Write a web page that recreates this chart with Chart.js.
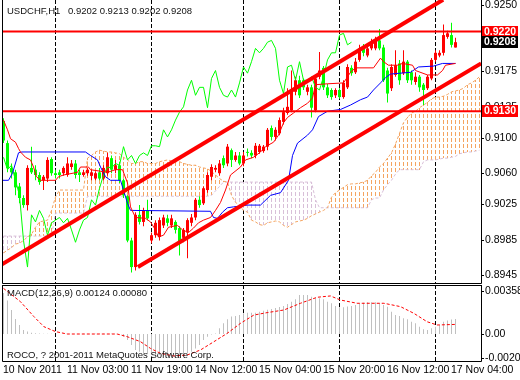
<!DOCTYPE html>
<html>
<head>
<meta charset="utf-8">
<script src="https://cdn.jsdelivr.net/npm/chart.js@4.4.1/dist/chart.umd.min.js"></script>
<style>
  body { margin: 0; background: #fff; }
  #wrap { position: relative; width: 520px; height: 380px; background: #fff; }
  canvas { position: absolute; left: 0; }
  #price { top: 0; }
  #macd { top: 284px; }
</style>
</head>
<body>
<div id="wrap">
  <canvas id="price" width="520" height="284"></canvas>
  <canvas id="macd" width="520" height="96"></canvas>
</div>
<script>
// USDCHF H1, 10 Nov 11:00 .. 17 Nov 05:00 (bar index 0..113)
const opens = [
  .9119,.9094,.9066,.9061,.9045,.9032,.9024,.9066,.9064,.9058,
  .9052,.9054,.9076,.9060,.9061,.9060,.9058,.9067,.9071,.9061,
  .9058,.9060,.9057,.9054,.9061,.9054,.9060,.9077,.9064,.9069,
  .9052,.9034,.8984,.8954,.9013,.9005,.9018,.8984,.8990,.8988,
  .9001,.9009,.9001,.9005,.8998,.8987,.8993,.9004,.9010,.9030,
  .9026,.9041,.9056,.9064,.9060,.9077,.9071,.9086,.9075,.9080,
  .9071,.9084,.9083,.9080,.9084,.9085,.9090,.9111,.9101,.9105,
  .9118,.9128,.9131,.9152,.9165,.9165,.9152,.9157,.9131,.9169,
  .9179,.9157,.9154,.9148,.9154,.9146,.9157,.9179,.9174,.9188,
  .9202,.9193,.9201,.9201,.9210,.9202,.9176,.9156,.9171,.9184,
  .9173,.9186,.9174,.9163,.9169,.9160,.9156,.9167,.9188,.9193,
  .9196,.9214,.9216,.9202
];
const highs = [
  .9122,.9097,.9071,.9064,.9049,.9035,.9069,.9090,.9069,.9061,
  .9058,.9078,.9078,.9064,.9064,.9068,.9078,.9075,.9075,.9064,
  .9064,.9066,.9064,.9062,.9066,.9069,.9083,.9080,.9075,.9073,
  .9054,.9035,.8987,.9016,.9024,.9021,.9030,.8993,.9007,.9010,
  .9013,.9013,.9013,.9007,.9000,.8998,.9009,.9014,.9032,.9034,
  .9045,.9061,.9070,.9069,.9075,.9080,.9093,.9088,.9084,.9084,
  .9084,.9088,.9086,.9094,.9093,.9092,.9111,.9114,.9112,.9123,
  .9134,.9156,.9176,.9169,.9170,.9167,.9160,.9160,.9171,.9197,
  .9181,.9161,.9156,.9156,.9156,.9165,.9183,.9182,.9190,.9205,
  .9206,.9205,.9212,.9214,.9223,.9205,.9179,.9183,.9199,.9188,
  .9199,.9188,.9176,.9174,.9171,.9162,.9171,.9190,.9199,.9199,
  .9228,.9221,.9230,.9213
];
const lows = [
  .9094,.9061,.9054,.9035,.9026,.9021,.9018,.9059,.9052,.9047,
  .9041,.9050,.9057,.9054,.9054,.9057,.9056,.9064,.9054,.9050,
  .9056,.9057,.9052,.9052,.9052,.9052,.9057,.9060,.9060,.9049,
  .9032,.8982,.8948,.8950,.9002,.9000,.9007,.8981,.8987,.8984,
  .8998,.9000,.8998,.8992,.8967,.8982,.8964,.9000,.9007,.9021,
  .9024,.9038,.9052,.9061,.9057,.9066,.9068,.9067,.9073,.9069,
  .9068,.9079,.9077,.9077,.9082,.9083,.9086,.9097,.9097,.9103,
  .9115,.9126,.9129,.9148,.9145,.9154,.9148,.9123,.9129,.9166,
  .9154,.9145,.9143,.9145,.9144,.9144,.9155,.9170,.9172,.9186,
  .9192,.9191,.9199,.9199,.9199,.9163,.9140,.9153,.9169,.9160,
  .9171,.9162,.9160,.9160,.9152,.9137,.9154,.9165,.9186,.9191,
  .9193,.9212,.9202,.9202
];
const closes = [
  .9097,.9066,.9061,.9044,.9032,.9024,.9066,.9061,.9058,.9050,
  .9056,.9075,.9060,.9058,.9058,.9066,.9071,.9071,.9058,.9058,
  .9061,.9064,.9061,.9060,.9054,.9066,.9078,.9064,.9069,.9052,
  .9035,.8984,.8954,.9013,.9005,.9018,.9009,.8990,.9004,.9007,
  .9010,.9004,.9009,.8996,.8982,.8996,.9007,.9010,.9030,.9024,
  .9043,.9058,.9067,.9066,.9071,.9069,.9090,.9075,.9080,.9071,
  .9080,.9083,.9080,.9091,.9091,.9090,.9109,.9101,.9109,.9120,
  .9129,.9135,.9154,.9165,.9148,.9157,.9157,.9134,.9167,.9176,
  .9157,.9148,.9146,.9154,.9146,.9162,.9180,.9173,.9186,.9201,
  .9196,.9201,.9208,.9210,.9201,.9165,.9150,.9180,.9182,.9165,
  .9186,.9165,.9165,.9169,.9157,.9154,.9169,.9188,.9196,.9196,
  .9216,.9218,.9205,.9208
];

// Ichimoku lines, read as (bar index, price) points
const tenkanIdx = [0,1,1.75,3,3.75,4.25,5.5,6.75,7.5,8.25,9.25,13,13.75,15,18.5,19.25,21.25,21.75,26,28,29.75,31,31.75,33,35.5,36.75,38,38.75,40,41.25,43.5,44.75,46.25,47.5,48.75,50,51.75,53,54.25,55.5,56.75,59.25,60.5,62.5,64.25,65.5,67.5,68.75,70,71,72.5,74.25,76,77.25,78,81,85,86.75,88,92.5,94.25,95,96.25,98.5,99.75,102.25,103,106,108.5,109.75,110.5,113];
const tenkanVal = [.9120,.9109,.9099,.9095,.9088,.9084,.9078,.9075,.9067,.9056,.9052,.9052,.9056,.9058,.9061,.9067,.9067,.9064,.9061,.9064,.9064,.9049,.9022,.9010,.9009,.9005,.8996,.8988,.8990,.8999,.9001,.8996,.8993,.8998,.9004,.9007,.9010,.9018,.9027,.9041,.9058,.9067,.9075,.9078,.9084,.9090,.9095,.9103,.9117,.9123,.9128,.9134,.9139,.9145,.9160,.9161,.9162,.9174,.9179,.9179,.9190,.9186,.9182,.9182,.9184,.9182,.9176,.9171,.9171,.9176,.9182,.9184];
const kijunIdx = [-0.25,1.25,2.25,3.75,4.5,20.5,21.75,23.5,24.25,25.5,26.75,29.25,31,31.75,51.75,52.5,53.5,54.75,56,57.5,61,64.25,66.75,69.25,71.25,72.25,73.5,76,77.25,78.75,81,84.25,86.75,89.25,91,92.5,94.25,95.5,96.75,101.75,103.75,107.5,109.75,113];
const kijunVal = [.9052,.9052,.9060,.9083,.9084,.9084,.9080,.9075,.9067,.9056,.9052,.9052,.9026,.9018,.9017,.9010,.9009,.9016,.9021,.9022,.9024,.9024,.9035,.9038,.9052,.9080,.9094,.9103,.9109,.9124,.9130,.9132,.9137,.9143,.9146,.9154,.9162,.9168,.9172,.9174,.9180,.9181,.9184,.9184];
const chikouShift = 26;

// cloud, one value per bar 0..119
const spanA = [
  .8970,.8973,.8976,.8980,.8981,.8984,.8988,.8991,.8999,.9005,
  .9006,.9007,.9018,.9033,.9041,.9041,.9041,.9041,.9041,.9041,
  .9041,.9077,.9080,.9084,.9086,.9085,.9084,.9084,.9083,.9082,
  .9078,.9075,.9071,.9071,.9073,.9073,.9071,.9071,.9071,.9073,
  .9074,.9075,.9074,.9073,.9073,.9071,.9070,.9069,.9069,.9067,
  .9066,.9065,.9062,.9058,.9054,.9051,.9050,.9035,.9027,.9024,
  .9018,.9016,.9007,.9005,.9002,.9001,.9004,.9005,.9006,.9005,
  .9001,.8999,.9002,.9005,.9006,.9007,.9009,.9012,.9014,.9016,
  .9018,.9021,.9033,.9038,.9041,.9044,.9047,.9048,.9048,.9049,
  .9050,.9052,.9057,.9061,.9067,.9071,.9077,.9083,.9093,.9105,
  .9117,.9123,.9128,.9130,.9134,.9137,.9140,.9144,.9146,.9146,
  .9147,.9149,.9152,.9153,.9154,.9156,.9160,.9162,.9165,.9169
];
const spanB = [
  .8989,.8989,.8989,.8989,.8989,.8989,.8989,.8989,.8989,.8989,
  .8989,.8989,.8989,.9015,.9015,.9015,.9015,.9015,.9015,.9015,
  .9015,.9034,.9034,.9034,.9034,.9034,.9034,.9034,.9034,.9034,
  .9034,.9034,.9034,.9034,.9034,.9034,.9034,.9034,.9034,.9034,
  .9034,.9034,.9034,.9034,.9034,.9034,.9034,.9034,.9034,.9034,
  .9034,.9034,.9035,.9040,.9045,.9050,.9050,.9050,.9050,.9050,
  .9050,.9050,.9050,.9050,.9050,.9050,.9050,.9050,.9050,.9050,
  .9050,.9050,.9050,.9050,.9050,.9050,.9050,.9050,.9030,.9021,
  .9021,.9021,.9021,.9021,.9021,.9021,.9021,.9021,.9021,.9021,
  .9021,.9021,.9030,.9032,.9032,.9041,.9047,.9052,.9059,.9064,
  .9064,.9064,.9064,.9064,.9064,.9073,.9075,.9075,.9075,.9076,
  .9077,.9077,.9078,.9079,.9082,.9083,.9084,.9084,.9085,.9086
];

// MACD(12,26,9)
const macdHist = [
  .00342,.0028,.002,.00125,.00075,.00033,.0002,.00011,.00006,.00005,
  .00003,.00002,.00002,.00001,.00001,.00002,.00001,0,-.00001,.00001,
  .00002,.00001,.00001,.00002,.00003,.00002,.00001,.00002,.00001,-.00002,
  -.00022,-.0005,-.00091,-.00133,-.00147,-.00161,-.00167,-.00175,-.00175,-.00175,
  -.00181,-.00181,-.00181,-.00181,-.00175,-.00175,-.00161,-.00147,-.0012,-.00091,
  -.0005,-.00022,-.00005,.00005,.00048,.00089,.00122,.00145,.0015,.00158,
  .00172,.00178,.00178,.00178,.00185,.00194,.00201,.00209,.00216,.00224,
  .00233,.0025,.00269,.00289,.00325,.00325,.00325,.00311,.00297,.00297,
  .00289,.00269,.00256,.00233,.00222,.00222,.00229,.00233,.00242,.00256,
  .00261,.00265,.00265,.00265,.00256,.00242,.00228,.00185,.00158,.0015,
  .00131,.00122,.00102,.00089,.00061,.00039,.00034,.00048,.00061,.00075,
  .00102,.00112,.0012,.00124
];
const signalIdx = [0,4.25,7.6,10.1,13,15.9,28.4,30.9,34.25,36.75,39.25,42.6,45.9,49.25,52.6,55.9,59.25,62.6,65.9,70.1,74.25,78.4,81.75,84.25,88.4,95.1,99.25,102.6,105.9,108.4,113];
const signalVal = [.0038,.00269,.00145,.00061,.0002,0,0,-.00022,-.00064,-.0012,-.00161,-.00183,-.00175,-.00133,-.00064,.00005,.00089,.00158,.00178,.002,.00256,.00306,.00317,.00283,.00256,.00256,.00228,.00172,.00102,.00075,.0008];

// objects and axes
const levels = [0.9220, 0.9130];
const channelUpper = [[-0.375, 0.8957], [109.9, 0.9256]];
const channelLower = [[33.6, 0.8954], [119.4, 0.9184]];
const priceTicks = [0.9250, 0.9175, 0.9135, 0.9100, 0.9060, 0.9025, 0.8985, 0.8945];
const macdTicks = [0.00358, 0, -0.00201];
const timeIdx = [0, 16, 32, 48, 64, 80, 96, 112];
const timeLabels = ['10 Nov 2011', '11 Nov 03:00', '11 Nov 19:00', '14 Nov 12:00', '15 Nov 04:00', '15 Nov 20:00', '16 Nov 12:00', '17 Nov 04:00'];
const daySeparators = [13, 37, 60, 84, 108];

const X_MIN = -0.375, X_MAX = 119.375;
const UP = '#ff0000', DOWN = '#00ff00';
const CLOUD_UP = '#f4a460', CLOUD_DOWN = '#d8bfd8';   // SandyBrown / Thistle
const AXIS_FONT = '10.5px "Liberation Sans", Arial, sans-serif';
const TEXT_FONT = '9.5px "Liberation Sans", Arial, sans-serif';
const last = closes.length - 1;

const pts = (xs, ys) => xs.map((x, i) => ({ x: x, y: ys[i] }));
const seg = p => p.map(q => ({ x: q[0], y: q[1] }));
const isUp = i => closes[i] >= opens[i];

function lineSet(data, color, width, order, dash) {
  return { type: 'line', data: data, borderColor: color, borderWidth: width, borderDash: dash || [],
           pointRadius: 0, fill: false, tension: 0, order: order };
}

function drawSeparators(chart) {
  const { ctx, chartArea: a, scales: { x } } = chart;
  ctx.save();
  ctx.strokeStyle = '#000';
  ctx.lineWidth = 1;
  ctx.setLineDash([4, 2]);
  daySeparators.forEach(d => {
    const px = Math.floor(x.getPixelForValue(d)) + 0.5;
    ctx.beginPath();
    ctx.moveTo(px, a.top);
    ctx.lineTo(px, a.bottom);
    ctx.stroke();
  });
  ctx.restore();
}

// ichimoku cloud: dashed 1px column per bar between span A and span B,
// dashes on a fixed 6px row grid (4 on, 2 off)
function drawCloud(chart) {
  const { ctx, chartArea: a, scales: { x, y } } = chart;
  ctx.save();
  spanA.forEach((v, i) => {
    const px = Math.floor(x.getPixelForValue(i));
    if (px < a.left || px >= a.right) return;
    const y1 = Math.round(y.getPixelForValue(v)), y2 = Math.round(y.getPixelForValue(spanB[i]));
    const top = Math.min(y1, y2), bottom = Math.max(y1, y2);
    ctx.fillStyle = v >= spanB[i] ? CLOUD_UP : CLOUD_DOWN;
    for (let row = top - (top % 6); row < bottom; row += 6) {
      const s = Math.max(row, top), e = Math.min(row + 4, bottom);
      if (e > s) ctx.fillRect(px, s, 1, e - s);
    }
  });
  ctx.restore();
}

function drawFrame(ctx, a) {
  ctx.strokeStyle = '#000';
  ctx.lineWidth = 1;
  ctx.setLineDash([]);
  ctx.beginPath();
  ctx.moveTo(a.left + 0.5, a.top);
  ctx.lineTo(a.left + 0.5, a.bottom + 0.5);
  ctx.lineTo(a.right + 0.5, a.bottom + 0.5);
  ctx.lineTo(a.right + 0.5, a.top);
  ctx.stroke();
}

function tag(ctx, a, y, value, bg) {
  const py = Math.round(y.getPixelForValue(value));
  ctx.fillStyle = bg;
  ctx.fillRect(a.right + 1, py - 6, 36, 12);
  ctx.fillStyle = '#fff';
  ctx.font = 'bold ' + AXIS_FONT;
  ctx.fillText(value.toFixed(4), a.right + 3, py + 0.5);
}

const priceDecor = {
  id: 'priceDecor',
  beforeDatasetsDraw(chart) {
    drawSeparators(chart);
    drawCloud(chart);
  },
  afterDraw(chart) {
    const { ctx, chartArea: a, scales: { y } } = chart;
    ctx.save();
    drawFrame(ctx, a);
    ctx.font = AXIS_FONT;
    ctx.fillStyle = '#000';
    ctx.textAlign = 'left';
    ctx.textBaseline = 'middle';
    priceTicks.forEach(v => {
      const py = Math.round(y.getPixelForValue(v)) + 0.5;
      ctx.beginPath();
      ctx.moveTo(a.right, py);
      ctx.lineTo(a.right + 3, py);
      ctx.stroke();
      ctx.fillText(v.toFixed(4), a.right + 4, py);
    });
    tag(ctx, a, y, levels[0], '#ff0000');
    tag(ctx, a, y, closes[last], '#000');
    tag(ctx, a, y, levels[1], '#ff0000');

    ctx.font = TEXT_FONT;
    ctx.fillStyle = '#111';
    ctx.fillText('USDCHF,H1', 7, 11);
    ctx.fillText([opens[last], highs[last], lows[last], closes[last]].map(v => v.toFixed(4)).join(' '), 68, 11);
    ctx.restore();
  }
};

new Chart(document.getElementById('price'), {
  type: 'bar',
  data: {
    datasets: [
      lineSet(seg(channelUpper), '#ff0000', 4, 0),
      lineSet(seg(channelLower), '#ff0000', 4, 0),
      lineSet([{ x: X_MIN, y: levels[0] }, { x: X_MAX, y: levels[0] }], '#ff0000', 2, 1),
      lineSet([{ x: X_MIN, y: levels[1] }, { x: X_MAX, y: levels[1] }], '#ff0000', 2, 1),
      lineSet(pts(tenkanIdx, tenkanVal), '#ff0000', 1, 2),
      lineSet(pts(kijunIdx, kijunVal), '#0000ff', 1, 3),
      lineSet(closes.slice(chikouShift).map((c, i) => ({ x: i, y: c })), '#00ff00', 1, 4),
      {
        data: opens.map((o, i) => ({ x: i, y: [o, closes[i]] })),
        backgroundColor: c => isUp(c.dataIndex) ? UP : DOWN,
        barThickness: 3, minBarLength: 1, grouped: false, inflateAmount: 0, borderWidth: 0, order: 5
      },
      {
        data: highs.map((h, i) => ({ x: i, y: [lows[i], h] })),
        backgroundColor: c => isUp(c.dataIndex) ? UP : DOWN,
        barThickness: 1, grouped: false, inflateAmount: 0, borderWidth: 0, order: 6
      },
      lineSet(spanA.map((v, i) => ({ x: i, y: v })), CLOUD_UP, 1, 7, [3, 2]),
      lineSet(spanB.map((v, i) => ({ x: i, y: v })), CLOUD_DOWN, 1, 8, [3, 2])
    ]
  },
  options: {
    responsive: false,
    devicePixelRatio: 1,
    animation: false,
    events: [],
    layout: { padding: { left: 2, right: 39, top: 0, bottom: 1 } },
    scales: {
      x: { type: 'linear', min: X_MIN, max: X_MAX, offset: false, display: false },
      y: { type: 'linear', min: 0.89360, max: 0.925565, display: false }
    },
    plugins: { legend: { display: false }, tooltip: { enabled: false } }
  },
  plugins: [priceDecor]
});

const macdDecor = {
  id: 'macdDecor',
  beforeDatasetsDraw: drawSeparators,
  afterDraw(chart) {
    const { ctx, chartArea: a, scales: { x, y } } = chart;
    ctx.save();
    drawFrame(ctx, a);
    ctx.beginPath();
    ctx.moveTo(a.left, a.top + 0.5);
    ctx.lineTo(a.right + 1, a.top + 0.5);
    ctx.stroke();
    ctx.font = AXIS_FONT;
    ctx.fillStyle = '#000';
    ctx.textBaseline = 'middle';
    ctx.textAlign = 'left';
    macdTicks.forEach(v => {
      const py = Math.round(y.getPixelForValue(v)) + 0.5;
      ctx.beginPath();
      ctx.moveTo(a.right, py);
      ctx.lineTo(a.right + 3, py);
      ctx.stroke();
      ctx.fillText(v === 0 ? '0.00' : v.toFixed(5), a.right + 4, py);
    });
    timeIdx.forEach((t, i) => {
      ctx.fillText(timeLabels[i], Math.floor(x.getPixelForValue(t)), 86);
    });
    ctx.font = TEXT_FONT;
    ctx.fillStyle = '#111';
    ctx.fillText('MACD(12,26,9) ' + macdHist[last].toFixed(5) + ' ' + signalVal[signalVal.length - 1].toFixed(5), 7, 9);
    ctx.fillText('ROCO, ? 2001-2011 MetaQuotes Software Corp.', 7, 71);
    ctx.restore();
  }
};

new Chart(document.getElementById('macd'), {
  type: 'bar',
  data: {
    datasets: [
      lineSet(pts(signalIdx, signalVal), '#ff0000', 1, 0, [3, 2]),
      {
        data: macdHist.map((v, i) => ({ x: i, y: v })),
        backgroundColor: '#c0c0c0',
        barThickness: 1, grouped: false, inflateAmount: 0, borderWidth: 0, order: 1
      }
    ]
  },
  options: {
    responsive: false,
    devicePixelRatio: 1,
    animation: false,
    events: [],
    layout: { padding: { left: 2, right: 39, top: 1, bottom: 19 } },
    scales: {
      x: { type: 'linear', min: X_MIN, max: X_MAX, offset: false, display: false },
      y: { type: 'linear', min: -0.002249, max: 0.004082, display: false }
    },
    plugins: { legend: { display: false }, tooltip: { enabled: false } }
  },
  plugins: [macdDecor]
});
</script>
</body>
</html>
